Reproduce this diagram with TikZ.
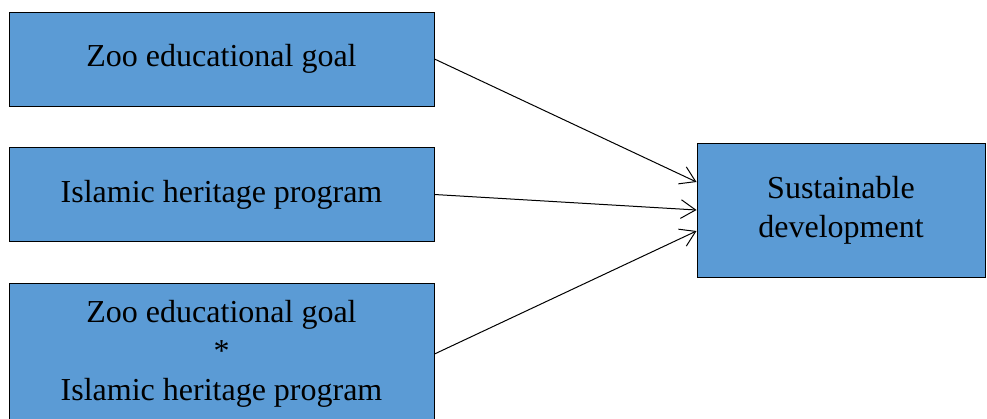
\documentclass[tikz,border=0pt]{standalone}
\usepackage{fontspec}
\setmainfont{Liberation Serif}
\usetikzlibrary{arrows.meta}
\definecolor{boxblue}{HTML}{5B9BD5}
\tikzset{
  varbox/.style={draw=black, line width=0.75pt, fill=boxblue, align=center,
    minimum width=318.75pt, minimum height=70.5pt, inner sep=0pt,
    font=\fontsize{24}{29}\selectfont},
  link/.style={line width=0.75pt, -{Straight Barb[length=11pt,width=14pt,line width=0.75pt]}}
}
\begin{document}
\begin{tikzpicture}[x=0.75pt, y=-0.75pt]
\useasboundingbox (0,0) rectangle (987,418);
\node[varbox] (zoo) at (221.5,59){Zoo educational goal};
\node[varbox] (ihp) at (221.5,194.5){Islamic heritage program};
\node[varbox, minimum height=106.5pt] (inter) at (221.5,354){Zoo educational goal\\*\\Islamic heritage program};
\node[varbox, minimum width=216pt, minimum height=100.5pt] (sd) at (841,210){Sustainable\\development};
\draw[link] (zoo.east) -- ([yshift=21pt]sd.west);
\draw[link] (ihp.east) -- (sd.west);
\draw[link] (inter.east) -- ([yshift=-15.75pt]sd.west);
\end{tikzpicture}
\end{document}
